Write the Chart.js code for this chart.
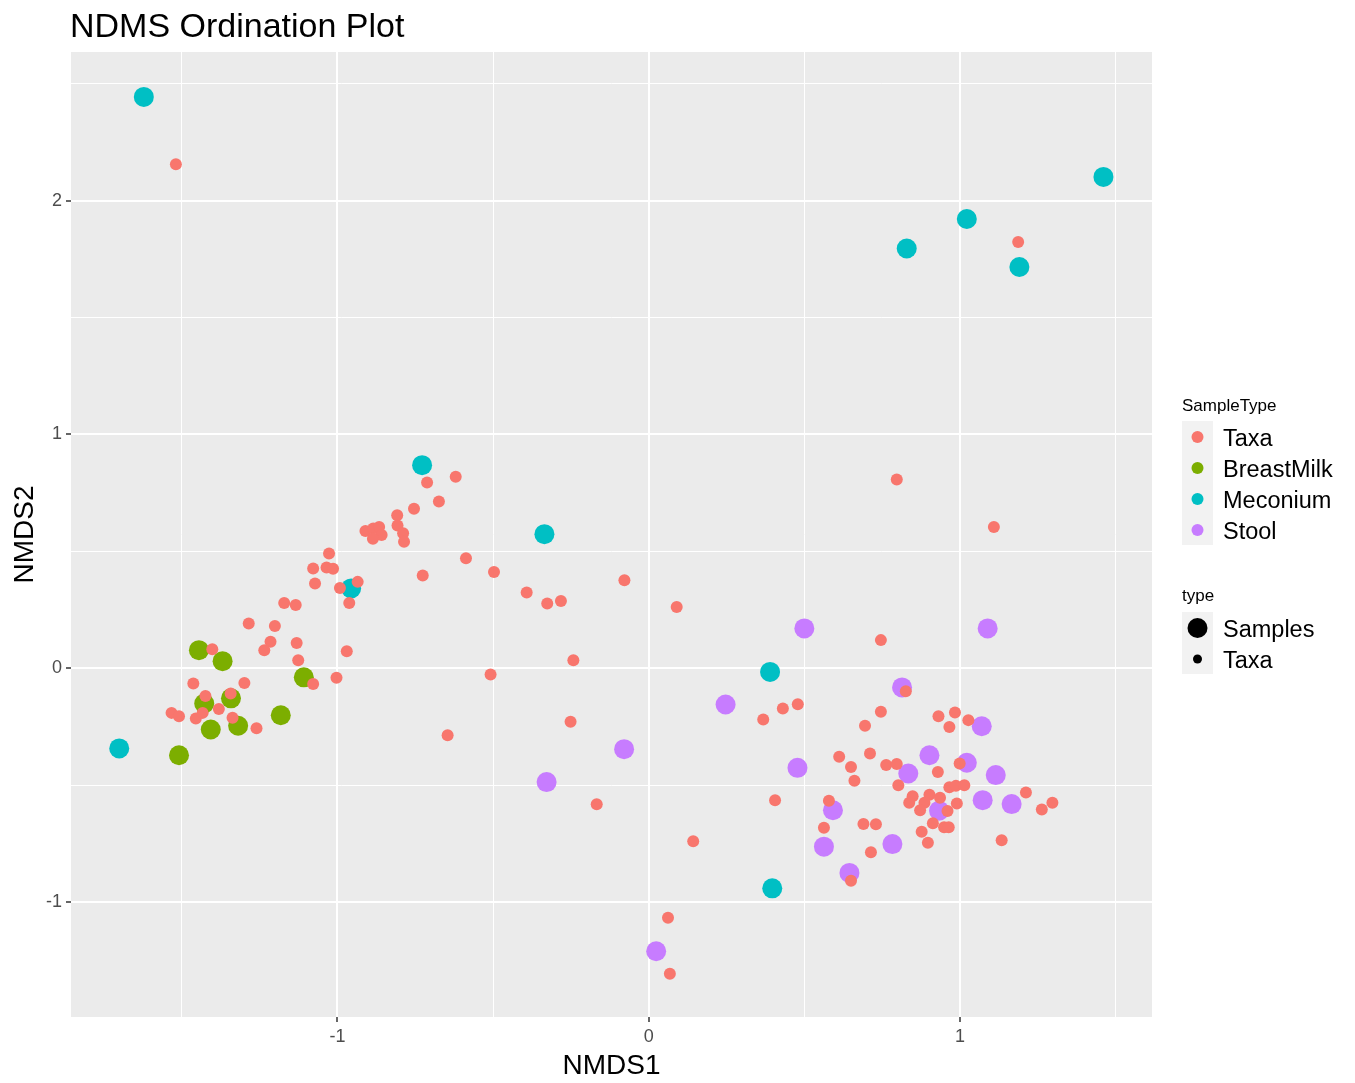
<!DOCTYPE html>
<html>
<head>
  <meta charset="UTF-8">
  <title>NDMS Ordination Plot</title>
  <script src="https://cdn.jsdelivr.net/npm/chart.js"></script>
  <style>
    body { margin: 0; background: #fff; }
  </style>
</head>
<body>
  <canvas id="chart" width="1355" height="1083"></canvas>

  <script>
    // legend groups
    const sampleTypes = ['Taxa', 'BreastMilk', 'Meconium', 'Stool'];
    const typeLabels = ['Samples', 'Taxa'];
    const xTickValues = [-1, 0, 1];
    const yTickValues = [-1, 0, 1, 2];

    // NMDS1, NMDS2 pairs
    const taxa = [
      [-1.519, 2.155], [1.187, 1.823], [0.797, 0.808], [1.109, 0.605], [0.746, 0.121],
      [-0.620, 0.819], [-0.712, 0.795], [-0.674, 0.714], [-0.754, 0.683], [-0.808, 0.655],
      [-0.807, 0.611], [-0.789, 0.578], [-0.786, 0.542], [-0.910, 0.587], [-0.885, 0.598],
      [-0.866, 0.605], [-0.858, 0.570], [-0.886, 0.554], [-1.027, 0.491], [-1.078, 0.427],
      [-1.035, 0.431], [-1.014, 0.426], [-1.072, 0.363], [-0.935, 0.370], [-0.992, 0.344],
      [-0.962, 0.280], [-0.726, 0.397], [-1.171, 0.280], [-1.134, 0.271], [-1.285, 0.192],
      [-1.201, 0.181], [-1.215, 0.114], [-1.235, 0.078], [-1.131, 0.109], [-1.126, 0.035],
      [-0.970, 0.073], [-1.402, 0.082], [-1.078, -0.067], [-1.003, -0.040], [-1.463, -0.064],
      [-1.299, -0.062], [-1.424, -0.118], [-1.343, -0.107], [-1.381, -0.173], [-1.533, -0.190],
      [-1.509, -0.204], [-1.455, -0.214], [-1.433, -0.190], [-1.337, -0.211], [-1.260, -0.256],
      [-0.587, 0.471], [-0.497, 0.412], [-0.392, 0.325], [-0.326, 0.278], [-0.282, 0.288],
      [-0.078, 0.377], [0.090, 0.263], [-0.242, 0.035], [-0.508, -0.026], [-0.251, -0.228],
      [-0.646, -0.286], [-0.167, -0.581], [0.143, -0.739], [0.062, -1.066], [0.068, -1.305],
      [0.826, -0.098], [0.431, -0.171], [0.479, -0.153], [0.368, -0.218], [0.746, -0.185],
      [0.695, -0.245], [0.931, -0.204], [0.984, -0.188], [1.027, -0.221], [0.966, -0.250],
      [0.612, -0.378], [0.711, -0.364], [0.650, -0.421], [0.661, -0.480], [0.763, -0.413],
      [0.797, -0.409], [0.999, -0.406], [0.929, -0.443], [0.802, -0.499], [0.966, -0.508],
      [0.987, -0.502], [1.014, -0.499], [1.212, -0.530], [0.406, -0.563], [0.579, -0.566],
      [0.848, -0.546], [0.902, -0.540], [0.936, -0.553], [0.837, -0.574], [0.886, -0.574],
      [0.872, -0.606], [0.960, -0.609], [0.990, -0.577], [1.263, -0.603], [1.297, -0.574],
      [0.563, -0.681], [0.690, -0.665], [0.730, -0.666], [0.913, -0.662], [0.949, -0.679],
      [0.964, -0.679], [0.877, -0.698], [0.897, -0.745], [1.134, -0.734], [0.714, -0.786],
      [0.650, -0.908]
    ];
    const breastMilk = [
      [-1.445, 0.078], [-1.369, 0.031], [-1.108, -0.038], [-1.428, -0.150], [-1.342, -0.128],
      [-1.407, -0.261], [-1.319, -0.245], [-1.182, -0.200], [-1.509, -0.371]
    ];
    const meconium = [
      [-1.622, 2.443], [-0.728, 0.869], [-0.335, 0.574], [-0.956, 0.342], [-1.701, -0.342],
      [0.390, -0.015], [0.397, -0.940], [0.829, 1.795], [1.022, 1.921], [1.191, 1.716],
      [1.461, 2.101]
    ];
    const stool = [
      [0.500, 0.171], [1.089, 0.171], [0.814, -0.081], [1.070, -0.247], [0.247, -0.154],
      [-0.079, -0.345], [-0.328, -0.486], [0.478, -0.425], [0.902, -0.371], [0.834, -0.449],
      [1.022, -0.403], [1.115, -0.456], [1.073, -0.563], [1.166, -0.580], [0.933, -0.608],
      [0.592, -0.606], [0.563, -0.762], [0.783, -0.751], [0.645, -0.874], [0.024, -1.209]
    ];

    const colors = ['#F8766D', '#7CAE00', '#00BFC4', '#C77CFF'];
    const toPoints = arr => arr.map(p => ({ x: p[0], y: p[1] }));

    function halfTicks(scale, lo, hi) {
      const t = [];
      for (let v = lo; v <= hi + 1e-9; v += 0.5) t.push({ value: v });
      scale.ticks = t;
    }
    const isMajor = v => Math.abs(v - Math.round(v)) < 1e-6;

    const decor = {
      id: 'decor',
      beforeDraw(chart) {
        const { ctx, chartArea: a } = chart;
        ctx.save();
        ctx.fillStyle = '#EBEBEB';
        ctx.fillRect(a.left, a.top, a.right - a.left, a.bottom - a.top);
        ctx.restore();
      },
      afterDraw(chart) {
        const { ctx, chartArea: a } = chart;
        ctx.save();
        ctx.fillStyle = '#000';
        ctx.textBaseline = 'alphabetic';
        // title
        ctx.font = '34px "Liberation Sans", Arial, sans-serif';
        ctx.textAlign = 'left';
        ctx.fillText('NDMS Ordination Plot', 70, 37);
        // axis titles
        ctx.font = '28px "Liberation Sans", Arial, sans-serif';
        ctx.textAlign = 'center';
        ctx.fillText('NMDS1', (a.left + a.right) / 2, 1074);
        ctx.save();
        ctx.translate(33, (a.top + a.bottom) / 2);
        ctx.rotate(-Math.PI / 2);
        ctx.fillText('NMDS2', 0, 0);
        ctx.restore();

        // legend: SampleType
        const kx = 1182, kw = 31, kh = 31;
        ctx.textAlign = 'left';
        ctx.font = '17px "Liberation Sans", Arial, sans-serif';
        ctx.fillText('SampleType', kx, 411);
        ctx.fillStyle = '#F2F2F2';
        ctx.fillRect(kx, 421, kw, kh * sampleTypes.length);
        ctx.font = '23.5px "Liberation Sans", Arial, sans-serif';
        sampleTypes.forEach((name, i) => {
          const cy = 437 + i * kh;
          ctx.fillStyle = colors[i];
          ctx.beginPath();
          ctx.arc(kx + 15.5, cy, 6, 0, Math.PI * 2);
          ctx.fill();
          ctx.fillStyle = '#000';
          ctx.fillText(name, 1223, cy + 8.5);
        });

        // legend: type
        ctx.font = '17px "Liberation Sans", Arial, sans-serif';
        ctx.fillText('type', kx, 601);
        ctx.fillStyle = '#F2F2F2';
        ctx.fillRect(kx, 612, kw, kh * typeLabels.length);
        ctx.font = '23.5px "Liberation Sans", Arial, sans-serif';
        const sizes = [10, 4.5];
        typeLabels.forEach((name, i) => {
          const cy = 628 + i * kh;
          ctx.fillStyle = '#000';
          ctx.beginPath();
          ctx.arc(kx + 15.5, cy, sizes[i], 0, Math.PI * 2);
          ctx.fill();
          ctx.fillText(name, 1223, cy + 8.5);
        });
        ctx.restore();
      }
    };

    const tickFont = { family: '"Liberation Sans", Arial, sans-serif', size: 18 };

    new Chart(document.getElementById('chart'), {
      type: 'scatter',
      data: {
        datasets: [
          { label: 'Taxa', data: toPoints(taxa), backgroundColor: colors[0], pointRadius: 6 },
          { label: 'BreastMilk', data: toPoints(breastMilk), backgroundColor: colors[1], pointRadius: 10 },
          { label: 'Meconium', data: toPoints(meconium), backgroundColor: colors[2], pointRadius: 10 },
          { label: 'Stool', data: toPoints(stool), backgroundColor: colors[3], pointRadius: 10 }
        ].map(d => Object.assign(d, { borderWidth: 0, pointHoverRadius: d.pointRadius }))
      },
      options: {
        responsive: false,
        devicePixelRatio: 1,
        animation: false,
        layout: { padding: { top: 52, right: 203, left: 0, bottom: 0 } },
        plugins: { legend: { display: false }, tooltip: { enabled: false } },
        scales: {
          x: {
            type: 'linear',
            min: -1.856,
            max: 1.617,
            afterBuildTicks: s => halfTicks(s, -1.5, 1.5),
            afterFit: s => { s.height = 66; },
            border: { display: false },
            grid: {
              color: '#FFFFFF',
              lineWidth: c => isMajor(c.tick.value) ? 2 : 1,
              tickColor: c => isMajor(c.tick.value) ? '#333333' : 'rgba(0,0,0,0)',
              tickLength: 5,
              tickWidth: 1.5
            },
            ticks: {
              autoSkip: false,
              maxRotation: 0,
              padding: 4,
              color: '#4D4D4D',
              font: tickFont,
              callback: v => isMajor(v) && xTickValues.includes(Math.round(v)) ? String(Math.round(v)) : ''
            }
          },
          y: {
            type: 'linear',
            min: -1.490,
            max: 2.635,
            afterBuildTicks: s => halfTicks(s, -1, 2.5),
            afterFit: s => { s.width = 71; },
            border: { display: false },
            grid: {
              color: '#FFFFFF',
              lineWidth: c => isMajor(c.tick.value) ? 2 : 1,
              tickColor: c => isMajor(c.tick.value) ? '#333333' : 'rgba(0,0,0,0)',
              tickLength: 5,
              tickWidth: 1.5
            },
            ticks: {
              autoSkip: false,
              padding: 4,
              color: '#4D4D4D',
              font: tickFont,
              callback: v => isMajor(v) && yTickValues.includes(Math.round(v)) ? String(Math.round(v)) : ''
            }
          }
        }
      },
      plugins: [decor]
    });
  </script>
</body>
</html>
